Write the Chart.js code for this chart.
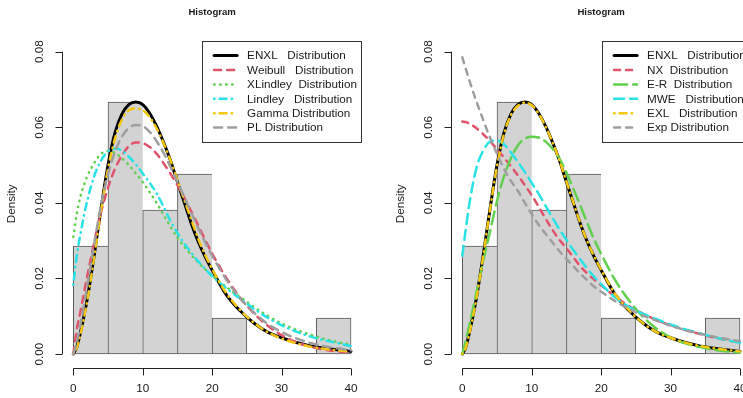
<!DOCTYPE html>
<html><head><meta charset="utf-8">
<script src="https://cdn.jsdelivr.net/npm/chart.js@4.4.1/dist/chart.umd.min.js"></script>
<style>
html,body{margin:0;padding:0;background:#fff;overflow:hidden;width:743px;height:398px;}
#wrap{position:relative;width:743px;height:398px;overflow:hidden;background:#fff;}
.panel{position:absolute;top:0;width:390px;height:398px;}
canvas{display:block;}
</style></head><body>
<div id="wrap">
<div class="panel" style="left:0px"><canvas id="c1" width="390" height="398"></canvas></div>
<div class="panel" style="left:389px"><canvas id="c2" width="390" height="398"></canvas></div>
</div>
<script>
// ---------- data ----------
const xGrid = [0,0.5,1,2,3,4,5,6,7,8,9,10,11,12,13,14,15,16,17,18,19,20,22,24,26,28,30,32,34,36,38,40];
const binMids = [2.5,7.5,12.5,17.5,22.5,27.5,32.5,37.5];
const binDensity = [0.02857,0.06667,0.03810,0.04762,0.00952,0,0,0.00952];
const xTicks = [0,10,20,30,40];
const xTickLabels = ["0","10","20","30","40"];
const yTicks = [0,0.02,0.04,0.06,0.08];
const yTickLabels = ["0.00","0.02","0.04","0.06","0.08"];

// left panel
const enxl    = [0,0.0018,0.0055,0.0145,0.026,0.0385,0.050,0.0585,0.0635,0.066,0.0667,0.066,0.0637,0.0603,0.056,0.0512,0.0455,0.040,0.0345,0.0297,0.0257,0.0222,0.0158,0.0115,0.0082,0.0058,0.0043,0.0031,0.0022,0.0016,0.0011,0.0007];
const weibull = [0,0.0065,0.011,0.0205,0.0295,0.0375,0.044,0.049,0.0525,0.055,0.056,0.0558,0.0548,0.053,0.0505,0.0477,0.0447,0.0413,0.0377,0.034,0.0302,0.0266,0.0203,0.015,0.0108,0.0075,0.005,0.0032,0.002,0.0012,0.0007,0.0004];
const xlindley= [0.031,0.037,0.0415,0.047,0.0505,0.053,0.0537,0.0532,0.0518,0.050,0.0478,0.0455,0.0428,0.040,0.0368,0.0337,0.0308,0.0284,0.0262,0.0242,0.0224,0.0208,0.0178,0.0151,0.0125,0.0101,0.0081,0.0065,0.0052,0.0041,0.0032,0.0025];
const lindley = [0.0183,0.026,0.0315,0.0405,0.047,0.0512,0.0536,0.0544,0.0538,0.0522,0.0502,0.0478,0.0453,0.0425,0.039,0.0352,0.032,0.0292,0.0268,0.0245,0.0225,0.0206,0.0175,0.0147,0.012,0.0096,0.0076,0.006,0.0047,0.0037,0.0029,0.0021];
const gammaD  = [0,0.0016,0.005,0.014,0.0255,0.038,0.049,0.057,0.062,0.0645,0.065,0.0645,0.0627,0.0597,0.0558,0.0512,0.046,0.0407,0.0355,0.0305,0.0262,0.0225,0.0162,0.0117,0.0083,0.0058,0.0041,0.0029,0.002,0.0014,0.001,0.0006];
const plD     = [0,0.003,0.0075,0.018,0.029,0.0395,0.0475,0.0535,0.0575,0.0598,0.0606,0.0603,0.0588,0.0563,0.0532,0.0495,0.0455,0.0415,0.0373,0.0333,0.0295,0.026,0.0198,0.0148,0.011,0.008,0.0058,0.0042,0.003,0.0021,0.0015,0.001];
// right panel
const nxD     = [0.0615,0.0614,0.061,0.0598,0.0582,0.0563,0.0542,0.052,0.0497,0.0473,0.0447,0.042,0.039,0.0358,0.0328,0.0302,0.028,0.0256,0.0232,0.0213,0.0197,0.0182,0.0152,0.0127,0.0107,0.009,0.0076,0.0064,0.0054,0.0045,0.0037,0.003];
const erD     = [0,0.0035,0.0075,0.016,0.0245,0.0325,0.0405,0.047,0.0518,0.0552,0.057,0.0575,0.0573,0.0562,0.0543,0.0517,0.048,0.0437,0.0393,0.0347,0.0303,0.0265,0.0196,0.0142,0.0099,0.0067,0.0044,0.0029,0.0019,0.0012,0.0007,0.0004];
const mweD    = [0.026,0.033,0.0395,0.049,0.0538,0.0562,0.0565,0.0555,0.0533,0.0508,0.0482,0.0453,0.0424,0.0392,0.036,0.033,0.0302,0.0275,0.025,0.0226,0.0204,0.0185,0.015,0.0125,0.0107,0.0092,0.0078,0.0066,0.0056,0.0046,0.0037,0.003];
const exlD    = [0,0.0017,0.0053,0.0143,0.0258,0.0383,0.0497,0.0582,0.0632,0.0657,0.0665,0.0658,0.0636,0.0602,0.056,0.0512,0.0456,0.0401,0.0346,0.0298,0.0258,0.0223,0.0159,0.0116,0.0082,0.0058,0.0043,0.0031,0.0022,0.0016,0.0011,0.0007];
const expD    = [0.0785,0.0755,0.0725,0.067,0.062,0.0572,0.053,0.049,0.0458,0.0432,0.040,0.037,0.0342,0.0318,0.0295,0.0272,0.0252,0.0232,0.0213,0.0195,0.0178,0.0165,0.014,0.012,0.0102,0.0088,0.0075,0.0064,0.0055,0.0047,0.004,0.0034];

const leftLabels  = ["ENXL   Distribution","Weibull   Distribution","XLindley  Distribution","Lindley   Distribution","Gamma Distribution","PL Distribution"];
const rightLabels = ["ENXL   Distribution","NX  Distribution","E-R  Distribution","MWE   Distribution","EXL   Distribution","Exp Distribution"];
const titleText = "Histogram";
const yLabelText = "Density";

// ---------- styles ----------
const FONT = '"Liberation Sans", Arial, Helvetica, sans-serif';
const TXT = '#1a1a1a';
const BAR_FILL = '#D3D3D3';
const BAR_EDGE = '#5a5a5a';

const leftStyles = [
  {color:'#000000', width:3,   dash:[]},
  {color:'#DF536B', width:2.5, dash:[7,6]},
  {color:'#61D04F', width:2.5, dash:[0.5,5.5]},
  {color:'#28E2E5', width:2.5, dash:[0.5,5,7,5]},
  {color:'#F5C710', width:2.5, dash:[0.5,5,7,5]},
  {color:'#9E9E9E', width:2.5, dash:[8,6]}
];
const rightStyles = [
  {color:'#000000', width:3,   dash:[]},
  {color:'#DF536B', width:2.5, dash:[6,6]},
  {color:'#61D04F', width:2.5, dash:[13,6]},
  {color:'#28E2E5', width:2.5, dash:[10,6]},
  {color:'#F5C710', width:2.5, dash:[0.5,5,7,5]},
  {color:'#9E9E9E', width:2.5, dash:[6,6]}
];

function pts(ys){ return xGrid.map((x,i)=>({x:x, y:ys[i]})); }

const rPlot = {
  id: 'rPlot',
  beforeDatasetsDraw(chart){
    const {ctx, scales:{x,y}} = chart;
    ctx.save();
    ctx.strokeStyle = BAR_EDGE; ctx.lineWidth = 1;
    const py = y.getPixelForValue(0) - 0.5;
    ctx.beginPath();
    ctx.moveTo(x.getPixelForValue(0), py);
    ctx.lineTo(x.getPixelForValue(40), py);
    ctx.stroke();
    ctx.restore();
  },
  afterDraw(chart, args, opts){
    const {ctx, chartArea:ca, scales:{x,y}} = chart;
    ctx.save();
    // x axis
    ctx.strokeStyle = '#222'; ctx.lineWidth = 1;
    const ax = Math.round(ca.bottom) + 0.5;
    ctx.beginPath();
    ctx.moveTo(x.getPixelForValue(xTicks[0]), ax);
    ctx.lineTo(x.getPixelForValue(xTicks[xTicks.length-1]), ax);
    xTicks.forEach(v=>{ const px = Math.round(x.getPixelForValue(v))+0.5; ctx.moveTo(px, ax); ctx.lineTo(px, ax+7); });
    ctx.stroke();
    ctx.fillStyle = TXT; ctx.font = '11.7px ' + FONT;
    ctx.textAlign = 'center'; ctx.textBaseline = 'middle';
    xTicks.forEach((v,i)=>{ ctx.fillText(xTickLabels[i], x.getPixelForValue(v), ax + 20); });
    // y axis
    const ay = Math.round(ca.left) + 0.5;
    ctx.beginPath();
    ctx.moveTo(ay, y.getPixelForValue(yTicks[0]));
    ctx.lineTo(ay, y.getPixelForValue(yTicks[yTicks.length-1]));
    yTicks.forEach(v=>{ const py = Math.round(y.getPixelForValue(v))+0.5; ctx.moveTo(ay, py); ctx.lineTo(ay-7, py); });
    ctx.stroke();
    yTicks.forEach((v,i)=>{
      ctx.save();
      ctx.translate(ca.left - 22, y.getPixelForValue(v));
      ctx.rotate(-Math.PI/2);
      ctx.fillText(yTickLabels[i], 0, 0);
      ctx.restore();
    });
    // y label
    ctx.save();
    ctx.translate(ca.left - 50, (ca.top + ca.bottom)/2);
    ctx.rotate(-Math.PI/2);
    ctx.fillText(yLabelText, 0, 0);
    ctx.restore();
    // title
    ctx.font = 'bold 9.6px ' + FONT;
    ctx.fillText(titleText, (ca.left + ca.right)/2, 12);
    // legend
    const lw = opts.legendWidth, bx = ca.right - lw, by = ca.top + 1, bh = 101;
    ctx.fillStyle = '#fff';
    ctx.fillRect(bx, by, lw, bh);
    ctx.strokeStyle = '#333'; ctx.lineWidth = 1;
    ctx.strokeRect(Math.round(bx)+0.5, Math.round(by)+0.5, Math.round(lw)-1, bh);
    ctx.font = '11.7px ' + FONT; ctx.textAlign = 'left'; ctx.textBaseline = 'middle';
    const lines = chart.data.datasets.filter(d=>d.type==='line');
    lines.forEach((d,i)=>{
      const ry = by + 15 + i*14.4;
      ctx.save();
      ctx.strokeStyle = d.borderColor; ctx.lineWidth = d.borderWidth;
      ctx.setLineDash(d.borderDash); ctx.lineCap = 'round';
      ctx.beginPath(); ctx.moveTo(bx+12, ry); ctx.lineTo(bx+35, ry); ctx.stroke();
      ctx.restore();
      ctx.fillStyle = TXT;
      ctx.fillText(d.label, bx + 45, ry + 0.5);
    });
    ctx.restore();
  }
};

function makeChart(id, series, labels, styles, legendWidth){
  const datasets = [{
    type:'bar', label:'hist',
    data: binMids.map((m,i)=>({x:m, y:binDensity[i]})),
    backgroundColor: BAR_FILL, borderColor: BAR_EDGE,
    borderWidth: (c)=>{ const i=c.dataIndex; const nextZero = (i===binDensity.length-1) || binDensity[i+1]===0; return {top:1,left:1,bottom:1,right: nextZero?1:0}; },
    borderSkipped:false, barPercentage:1, categoryPercentage:1, grouped:false, order:100
  }];
  series.forEach((s,i)=>{
    datasets.push({
      type:'line', label: labels[i], data: pts(s),
      borderColor: styles[i].color, borderWidth: styles[i].width, borderDash: styles[i].dash,
      borderCapStyle:'round', borderJoinStyle:'round',
      pointRadius:0, fill:false, cubicInterpolationMode:'monotone', order: 50 - i
    });
  });
  return new Chart(document.getElementById(id), {
    type:'bar',
    data:{datasets},
    options:{
      responsive:false, animation:false, devicePixelRatio:1,
      layout:{padding:{left:62.2, right:27.9, top:39.6, bottom:30}},
      scales:{
        x:{type:'linear', min:-1.6, max:41.6, offset:false, display:false,
           afterBuildTicks:(s)=>{ s.ticks = xTicks.map(v=>({value:v})); }},
        y:{type:'linear', min:-0.0037, max:0.0832, display:false,
           afterBuildTicks:(s)=>{ s.ticks = yTicks.map(v=>({value:v})); }}
      },
      plugins:{legend:{display:false}, tooltip:{enabled:false}, rPlot:{legendWidth}}
    },
    plugins:[rPlot]
  });
}

makeChart('c1', [enxl, weibull, xlindley, lindley, gammaD, plD], leftLabels, leftStyles, 160);
makeChart('c2', [enxl, nxD, erD, mweD, exlD, expD], rightLabels, rightStyles, 149);
</script>
</body></html>
